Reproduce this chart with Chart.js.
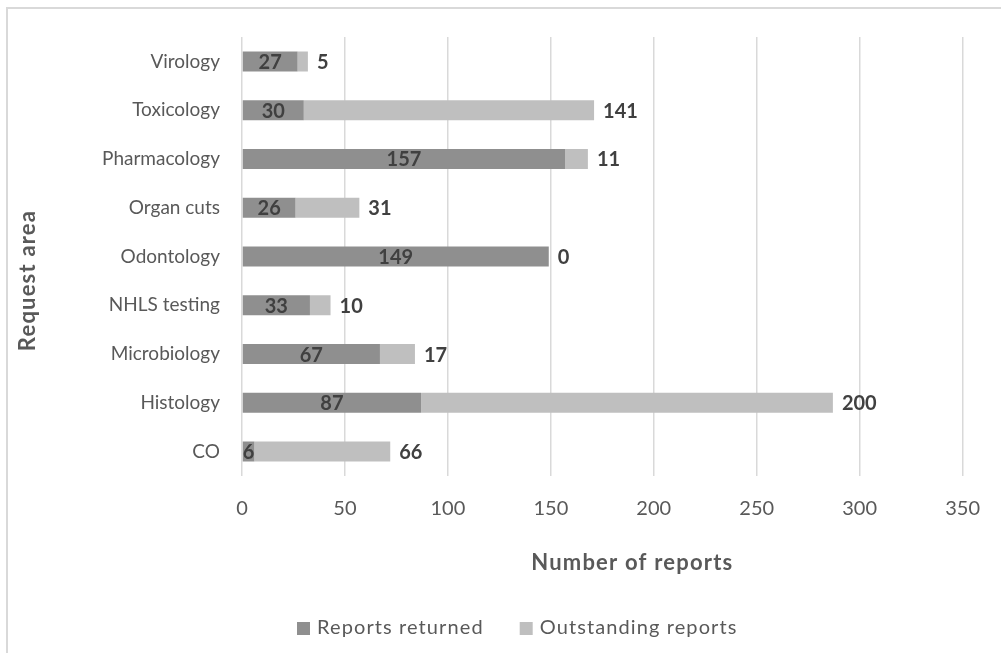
<!DOCTYPE html>
<html>
<head>
<meta charset="utf-8">
<script src="https://cdn.jsdelivr.net/npm/chart.js@4.4.1/dist/chart.umd.min.js"></script>
<style>
  body { margin: 0; background: #fff; }
  #wrap { width: 1001px; height: 653px; position: relative; }
</style>
</head>
<body>
<div id="wrap"><canvas id="myChart"></canvas></div>
<script>
const areas = ["Virology", "Toxicology", "Pharmacology", "Organ cuts", "Odontology",
  "NHLS testing", "Microbiology", "Histology", "CO"];
const returned = [27, 30, 157, 26, 149, 33, 67, 87, 6];
const outstanding = [5, 141, 11, 31, 0, 10, 17, 200, 66];
const xTicks = [0, 50, 100, 150, 200, 250, 300, 350];

const FONT = "Lato, 'Open Sans', sans-serif";
const TEXT = "#595959";
const LABEL = "#404040";

// frame, axis titles, value labels and legend
const extras = {
  id: "extras",
  beforeDraw(chart) {
    const c = chart.ctx;
    c.save();
    c.strokeStyle = "#d9d9d9";
    c.lineWidth = 2;
    c.strokeRect(7, 8, 1200, 900);
    c.restore();
  },
  afterDatasetsDraw(chart) {
    const c = chart.ctx;
    const area = chart.chartArea;
    const m0 = chart.getDatasetMeta(0);
    const m1 = chart.getDatasetMeta(1);
    c.save();
    c.font = "bold 20px " + FONT;
    c.fillStyle = LABEL;
    c.textBaseline = "middle";
    returned.forEach((v, i) => {
      const bar = m0.data[i];
      c.textAlign = "center";
      c.fillText(String(v), (bar.x + bar.base) / 2, bar.y + 1);
      const end = m1.data[i];
      c.textAlign = "left";
      c.fillText(String(outstanding[i]), end.x + 9, end.y + 1);
    });

    // axis titles
    c.fillStyle = TEXT;
    c.textAlign = "center";
    c.font = "bold 22px " + FONT;
    c.letterSpacing = "1.2px";
    c.fillText("Number of reports", (area.left + area.right) / 2 + 30, 563);
    c.translate(28, (area.top + area.bottom) / 2 + 24);
    c.rotate(-Math.PI / 2);
    c.fillText("Request area", 0, 0);
    c.restore();

    // legend
    c.save();
    c.font = "20px " + FONT;
    c.letterSpacing = "1.1px";
    c.textBaseline = "middle";
    c.textAlign = "left";
    let x = 297;
    const y = 628;
    chart.data.datasets.forEach((ds) => {
      c.fillStyle = ds.backgroundColor;
      c.fillRect(x, y - 6, 13, 13);
      c.fillStyle = TEXT;
      c.fillText(ds.label, x + 20, y);
      x += 20 + c.measureText(ds.label).width + 36;
    });
    c.restore();
  }
};

new Chart(document.getElementById("myChart"), {
  type: "bar",
  data: {
    labels: areas,
    datasets: [
      { label: "Reports returned", data: returned, backgroundColor: "#8f8f8f" },
      { label: "Outstanding reports", data: outstanding, backgroundColor: "#bfbfbf" }
    ]
  },
  options: {
    indexAxis: "y",
    responsive: true,
    maintainAspectRatio: false,
    devicePixelRatio: 1,
    animation: false,
    events: [],
    categoryPercentage: 1,
    barPercentage: 0.41,
    layout: { padding: { top: 37, right: 38, left: 0, bottom: 0 } },
    plugins: { legend: { display: false }, tooltip: { enabled: false } },
    scales: {
      x: {
        stacked: true,
        min: 0,
        max: 350,
        afterBuildTicks: (s) => { s.ticks = xTicks.map((v) => ({ value: v })); },
        afterFit: (s) => { s.height = 177; },
        grid: { color: "#d9d9d9", lineWidth: 1.5, drawTicks: false },
        border: { display: false },
        ticks: { padding: 21, color: TEXT, font: { family: FONT, size: 20 } }
      },
      y: {
        stacked: true,
        afterFit: (s) => { s.width = 242; },
        grid: { display: false, drawTicks: false },
        border: { display: false },
        ticks: { padding: 22, color: TEXT, font: { family: FONT, size: 19 } }
      }
    }
  },
  plugins: [extras]
});
</script>
</body>
</html>
